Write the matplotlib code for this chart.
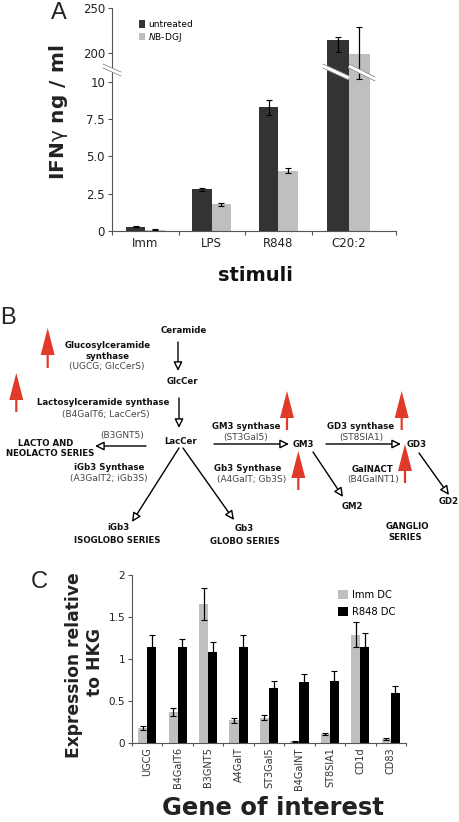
"""Three panel figure: IFN-gamma bars, glycosphingolipid pathway, gene expression bars."""

import matplotlib

matplotlib.use("Agg")
import matplotlib.pyplot as plt
import numpy as np

W, H = 460, 822

# Panel A
stimuli = ["Imm", "LPS", "R848", "C20:2"]
untreated = [0.28, 2.8, 8.3, 214.5]
untreated_err_low = [0.03, 0.1, 0.5, 13.5]
untreated_err_high = [0.03, 0.1, 0.5, 3.5]
nbdgj = [0.1, 1.8, 4.05, 199]
nbdgj_err_low = [0.03, 0.1, 0.15, 188.8]
nbdgj_err_high = [0.03, 0.1, 0.15, 30]
a_ticks = [0, 2.5, 5, 7.5, 10, 200, 250]
a_ticklabels = ["0", "2.5", "5.0", "7.5", "10", "200", "250"]

# Panel C
genes = ["UGCG", "B4GalT6", "B3GNT5", "A4GalT", "ST3Gal5", "B4GalNT", "ST8SIA1", "CD1d", "CD83"]
imm_dc = [0.18, 0.37, 1.66, 0.27, 0.30, 0.02, 0.11, 1.29, 0.05]
imm_err = [0.02, 0.05, 0.19, 0.03, 0.03, 0.005, 0.015, 0.15, 0.01]
r848_dc = [1.14, 1.14, 1.08, 1.14, 0.65, 0.73, 0.74, 1.14, 0.59]
r848_err = [0.15, 0.10, 0.12, 0.14, 0.09, 0.09, 0.12, 0.17, 0.09]

# Panel B: (text, x, y, bold), positions in pixels
pathway_text = [
    ("Ceramide", 184, 330, True),
    ("Glucosylceramide", 108, 345, True),
    ("synthase", 108, 356, True),
    ("(UGCG; GlcCerS)", 107, 366, False),
    ("GlcCer", 182, 381, True),
    ("Lactosylceramide synthase", 103, 402, True),
    ("(B4GalT6; LacCerS)", 106, 414, False),
    ("(B3GNT5)", 122, 435, False),
    ("LacCer", 181, 441, True),
    ("LACTO AND", 46, 443, True),
    ("NEOLACTO SERIES", 50, 453, True),
    ("iGb3 Synthase", 109, 467, True),
    ("(A3GalT2; iGb3S)", 109, 478, False),
    ("GM3 synthase", 246, 426, True),
    ("(ST3Gal5)", 246, 437, False),
    ("GM3", 303, 444, True),
    ("GD3 synthase", 361, 426, True),
    ("(ST8SIA1)", 361, 437, False),
    ("GD3", 417, 444, True),
    ("Gb3 Synthase", 248, 468, True),
    ("(A4GalT; Gb3S)", 252, 479, False),
    ("GalNACT", 373, 469, True),
    ("(B4GalNT1)", 373, 479, False),
    ("GM2", 352, 506, True),
    ("GD2", 449, 501, True),
    ("GANGLIO", 407, 526, True),
    ("SERIES", 405, 537, True),
    ("iGb3", 118, 527, True),
    ("ISOGLOBO SERIES", 117, 540, True),
    ("Gb3", 244, 528, True),
    ("GLOBO SERIES", 245, 541, True),
]
# start and end of each black arrow
pathway_arrows = [
    ((178, 342), (178, 371)),
    ((179, 398), (179, 428)),
    ((146, 446), (95, 446)),
    ((214, 444), (289, 444)),
    ((326, 444), (401, 444)),
    ((179, 448), (132, 522)),
    ((183, 448), (234, 520)),
    ((313, 452), (343, 497)),
    ((419, 453), (449, 495)),
]
# x, tail y, tip y of each red arrow
red_arrows = [
    (47.7, 368, 328),
    (16.3, 412, 373),
    (287, 430, 391),
    (401.7, 430, 391),
    (298.3, 490, 451),
    (405, 483, 444),
]

DARK = "#333333"
GREY = "#bfbfbf"
AXIS = "#555555"
RED = "#e03a2a"


def px_axes(fig, left, top, right, bottom):
    return fig.add_axes([left / W, 1 - bottom / H, (right - left) / W, (bottom - top) / H])


def broken(y):
    return np.interp(y, [0, 10.67, 179, 250], [0, 159, 159.01, 223])


def unbroken(p):
    return np.interp(p, [0, 159, 159.01, 223], [0, 10.67, 179, 250])


def clean(ax):
    ax.spines[["top", "right"]].set_visible(False)
    ax.spines[["left", "bottom"]].set_color(AXIS)
    ax.spines[["left", "bottom"]].set_linewidth(0.8)
    ax.patch.set_alpha(0)


fig = plt.figure(figsize=(W / 100, H / 100), dpi=100)

# A
ax = px_axes(fig, 112, 8, 396, 231)
pos = np.array([0, 1, 2, 3.06])
widths = np.array([0.29, 0.29, 0.29, 0.32])
ax.bar(pos - widths / 2, untreated, widths, color=DARK, label="untreated")
ax.bar(pos + widths / 2, nbdgj, widths, color=GREY, label=r"$\mathit{N}$B-DGJ")
err_kw = dict(fmt="none", ecolor="black", elinewidth=0.9, capsize=2, capthick=0.8)
ax.errorbar(pos - widths / 2, untreated, yerr=[untreated_err_low, untreated_err_high], **err_kw)
ax.errorbar(pos + widths / 2, nbdgj, yerr=[nbdgj_err_low, nbdgj_err_high], **err_kw)
ax.set_yscale("function", functions=(broken, unbroken))
ax.set_ylim(0, 250)
ax.set_xlim(-0.5, 3.77)
ax.set_yticks(a_ticks, a_ticklabels, fontsize=8.5, color="#222222")
ax.minorticks_off()
ax.set_xticks(pos, stimuli, fontsize=8.5, color="#222222")
ax.set_xticks([-0.5, 0.5, 1.5, 2.5, 3.77], minor=True)
ax.tick_params(axis="x", which="major", length=0, pad=4)
ax.tick_params(axis="x", which="minor", length=3, color=AXIS, width=0.8)
ax.tick_params(axis="y", length=3, color=AXIS, width=0.8, pad=2)
clean(ax)
ax.legend(loc="upper left", bbox_to_anchor=(139 / W, 1 - 20 / H), bbox_transform=fig.transFigure,
          frameon=False, fontsize=6.5, handlelength=0.7, handleheight=0.9, handletextpad=0.3,
          labelspacing=0.2, borderpad=0, borderaxespad=0)

# C
ax = px_axes(fig, 132, 575, 406, 743)
x = np.arange(len(genes))
ax.bar(x - 0.15, imm_dc, 0.3, color=GREY, label="Imm DC")
ax.bar(x + 0.15, r848_dc, 0.3, color="black", label="R848 DC")
ax.errorbar(x - 0.15, imm_dc, yerr=imm_err, fmt="none", ecolor="black", elinewidth=0.9, capsize=2.5, capthick=0.8)
ax.errorbar(x + 0.15, r848_dc, yerr=[[0] * len(genes), r848_err], fmt="none", ecolor="black",
            elinewidth=0.9, capsize=2.5, capthick=0.8)
ax.set_ylim(0, 2)
ax.set_xlim(-0.5, len(genes) - 0.5)
ax.set_yticks([0, 0.5, 1, 1.5, 2], ["0", "0.5", "1", "1.5", "2"], fontsize=7.5, color="#222222")
ax.set_xticks(x, genes, rotation=90, fontsize=7, color="#333333")
ax.set_xticks(np.arange(-0.5, len(genes)), minor=True)
ax.tick_params(axis="x", which="major", length=0, pad=3)
ax.tick_params(axis="x", which="minor", length=2.5, color=AXIS, width=0.8)
ax.tick_params(axis="y", length=3, color=AXIS, width=0.8, pad=2)
clean(ax)
ax.legend(loc="upper left", bbox_to_anchor=(338 / W, 1 - 590 / H), bbox_transform=fig.transFigure,
          frameon=False, fontsize=7.2, handlelength=1.0, handleheight=1.0, handletextpad=0.4,
          labelspacing=0.65, borderpad=0, borderaxespad=0)

# overlay in pixel coordinates for labels, the pathway and the axis breaks
ov = fig.add_axes([0, 0, 1, 1], zorder=5)
ov.set_xlim(0, W)
ov.set_ylim(H, 0)
ov.axis("off")

for xs, ys in [((103, 121), (66, 74)), ((323, 349), (66, 78)), ((349, 375), (66, 79))]:
    ov.plot(xs, ys, color="white", lw=3, solid_capstyle="butt")
    ov.plot(xs, (ys[0] - 2, ys[1] - 2), color="#777777", lw=0.5)
    ov.plot(xs, (ys[0] + 2, ys[1] + 2), color="#777777", lw=0.5)

for letter, lx, ly in [("A", 59, 13), ("B", 8, 318), ("C", 39, 582)]:
    ov.text(lx, ly, letter, fontsize=17, family="Liberation Sans", color="#222222", ha="center", va="center")

ov.text(59, 112, r"IFN$\mathrm{\gamma}$ ng / ml", fontsize=14.5, fontweight="bold", rotation=90,
        ha="center", va="center", color="#222222")
ov.text(255, 275, "stimuli", fontsize=14, fontweight="bold", ha="center", va="center", color="#111111")
ov.text(74, 665, "Expression relative", fontsize=12.3, fontweight="bold", rotation=90,
        ha="center", va="center", color="#222222")
ov.text(95, 662, "to HKG", fontsize=12.3, fontweight="bold", rotation=90, ha="center", va="center",
        color="#222222")
ov.text(273, 808, "Gene of interest", fontsize=17.5, fontweight="bold", ha="center", va="center", color="#222222")

for label, tx, ty, bold in pathway_text:
    ov.text(tx, ty, label, fontsize=6.2 if bold else 6.5, fontweight="bold" if bold else "normal",
            ha="center", va="center", color="#111111" if bold else "#444444")

for start, end in pathway_arrows:
    ov.annotate("", xy=end, xytext=start,
                arrowprops=dict(arrowstyle="-|>,head_length=0.45,head_width=0.22", fc="white", ec="black",
                                lw=1.0, shrinkA=0, shrinkB=0, mutation_scale=12))

for ax_x, tail, tip in red_arrows:
    ov.arrow(ax_x, tail, 0, tip - tail, width=2.2, head_width=14, head_length=27,
             length_includes_head=True, color=RED, lw=0)

fig.savefig("out.png", dpi=100)
